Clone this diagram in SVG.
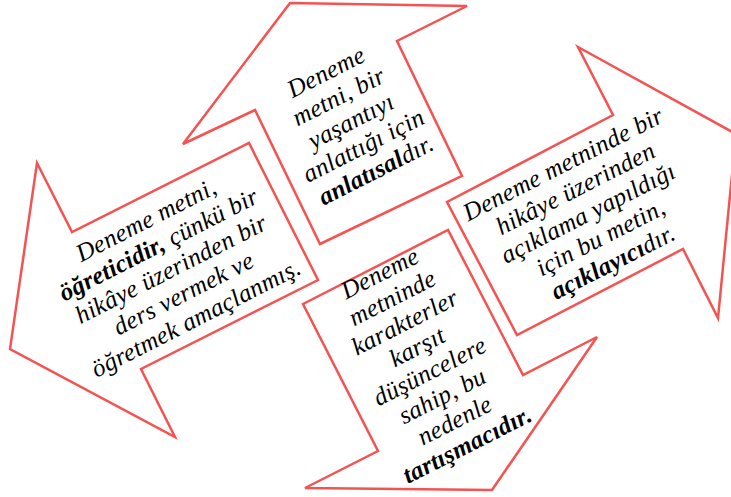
<svg xmlns="http://www.w3.org/2000/svg" width="731" height="497" viewBox="0 0 731 497">
<style>
.arrow{fill:#ffffff;stroke:#f55252;stroke-width:2.5;stroke-linejoin:miter}
.t{font-family:"Liberation Serif","Times New Roman",serif;font-style:italic;font-size:25px;fill:#000;text-anchor:middle;letter-spacing:0.3px}
.b{font-weight:bold}
</style>
<rect width="731" height="497" fill="#ffffff"/>
<g id="connectors"></g>
<g id="node-top">
<polygon class="arrow" points="290,3 467,6 397,41 462,176 320,244 255,110 183,144"/>
<g transform="translate(352,123) rotate(-27)" font-family="Liberation Serif, serif" font-style="italic" font-size="25" text-anchor="middle">
<text class="t" x="0" y="-49">Deneme</text>
<text class="t" x="0" y="-21.5">metni, bir</text>
<text class="t" x="0" y="6">yaşantıyı</text>
<text class="t" x="0" y="33.5">anlattığı için</text>
<text class="t" x="0" y="61"><tspan class="b" font-weight="bold">anlatısal</tspan>dır.</text>
</g>
</g>
<g id="node-left">
<polygon class="arrow" points="37,163 72,232 249,143 318,280 141,369 175,437 10,349"/>
<g transform="translate(172,271) rotate(-27)" font-family="Liberation Serif, serif" font-style="italic" font-size="25" text-anchor="middle">
<text class="t" x="0" y="-49">Deneme metni,</text>
<text class="t" x="0" y="-21.5"><tspan class="b" font-weight="bold">öğreticidir,</tspan> çünkü bir</text>
<text class="t" x="0" y="6">hikâye üzerinden bir</text>
<text class="t" x="0" y="33.5">ders vermek ve</text>
<text class="t" x="0" y="61">öğretmek amaçlanmış.</text>
</g>
</g>
<g id="node-right">
<polygon class="arrow" points="578,47 736,134 718,318 683,249 517,335 447,202 613,115"/>
<g transform="translate(589,215) rotate(-27)" font-family="Liberation Serif, serif" font-style="italic" font-size="25" text-anchor="middle">
<text class="t" x="0" y="-49">Deneme metninde bir</text>
<text class="t" x="0" y="-21.5">hikâye üzerinden</text>
<text class="t" x="0" y="6">açıklama yapıldığı</text>
<text class="t" x="0" y="33.5">için bu metin,</text>
<text class="t" x="0" y="61"><tspan class="b" font-weight="bold">açıklayıcı</tspan>dır.</text>
</g>
</g>
<g id="node-bottom">
<polygon class="arrow" points="303,304 448,230 523,375 597,337 492,490 305,488 378,451"/>
<g transform="translate(424.5,361) rotate(-27)" font-family="Liberation Serif, serif" font-style="italic" font-size="25" text-anchor="middle">
<text class="t" x="0" y="-90.25">Deneme</text>
<text class="t" x="0" y="-62.75">metninde</text>
<text class="t" x="0" y="-35.25">karakterler</text>
<text class="t" x="0" y="-7.75">karşıt</text>
<text class="t" x="0" y="19.75">düşüncelere</text>
<text class="t" x="0" y="47.25">sahip, bu</text>
<text class="t" x="0" y="74.75">nedenle</text>
<text class="t b" x="0" y="102.25" font-weight="bold">tartışmacıdır.</text>
</g>
</g>
</svg>
